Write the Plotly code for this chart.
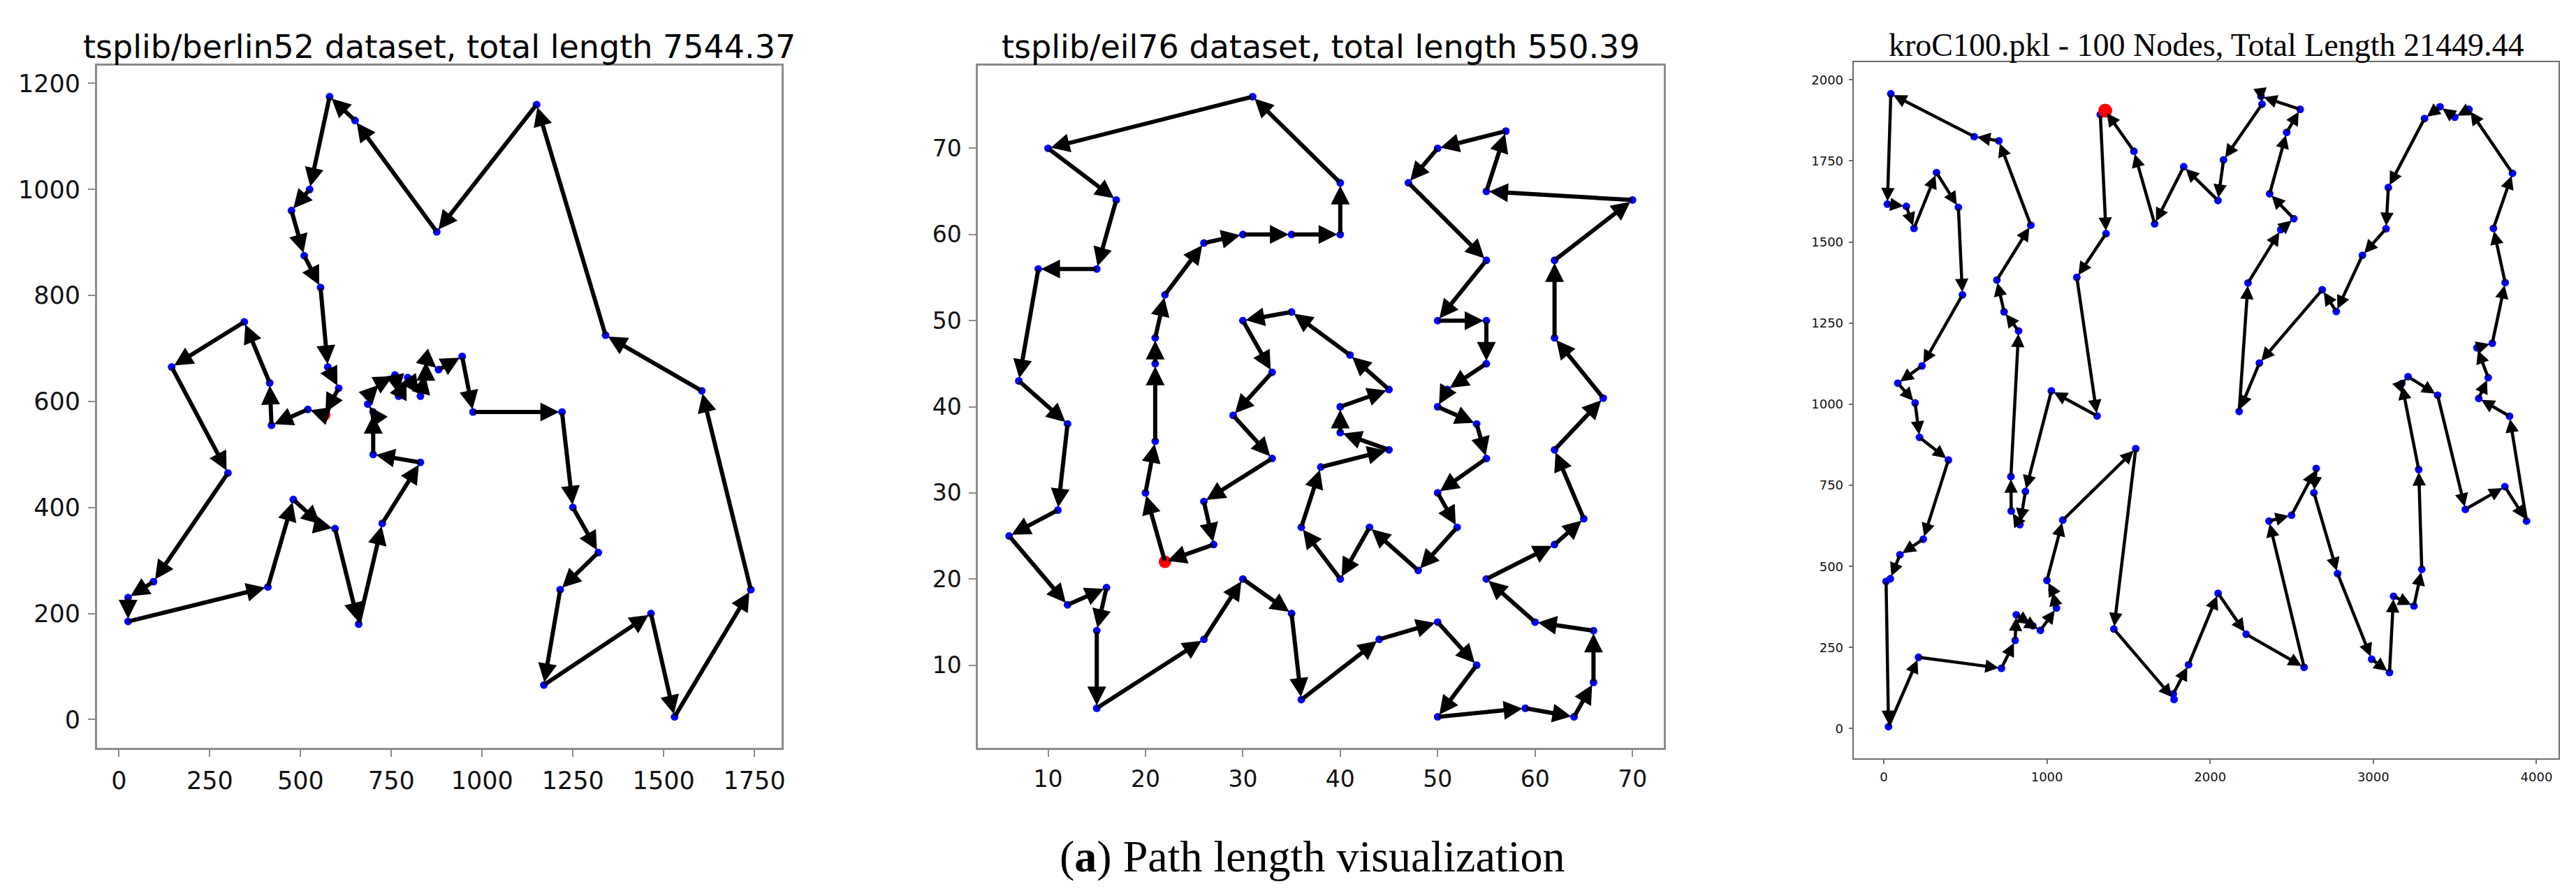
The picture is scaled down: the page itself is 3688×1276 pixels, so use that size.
import plotly.graph_objects as go

W, H = 3688, 1276

# ---------------- data (tour order, first point = start) ----------------
berlin_title = "tsplib/berlin52 dataset, total length 7544.37"
berlin_x = [565, 520, 420, 415, 345, 145, 300, 95, 25, 25, 410, 480, 560, 595, 660,
            725, 830, 700, 700, 685, 685, 720, 760, 770, 795, 830, 835, 845, 845, 880,
            945, 975, 1220, 1250, 1320, 1215, 1170, 1465, 1530, 1740, 1605, 1340, 1150,
            875, 650, 580, 525, 475, 510, 555, 575, 605]
berlin_y = [575, 585, 555, 635, 750, 665, 465, 260, 230, 185, 250, 415, 365, 360, 180,
            370, 485, 500, 580, 595, 610, 635, 650, 610, 645, 610, 625, 655, 680, 660,
            685, 580, 580, 400, 315, 245, 65, 200, 5, 245, 620, 725, 1160,
            920, 1130, 1175, 1000, 960, 875, 815, 665, 625]
berlin_xticks = [0, 250, 500, 750, 1000, 1250, 1500, 1750]
berlin_yticks = [0, 200, 400, 600, 800, 1000, 1200]

eil_title = "tsplib/eil76 dataset, total length 550.39"
eil_x = [22, 20, 21, 21, 21, 22, 26, 30, 35, 40, 40, 31, 10, 17, 15, 9, 7, 12, 11, 6,
         12, 16, 15, 15, 26, 30, 35, 36, 44, 50, 54, 50, 59, 64, 66, 66, 60, 55, 62, 65,
         62, 67, 62, 62, 70, 55, 57, 50, 47, 55, 50, 55, 55, 51, 50, 54, 55, 50, 52, 48,
         43, 40, 36, 38, 45, 40, 40, 45, 41, 35, 30, 33, 29, 33, 26, 27]
eil_y = [22, 30, 36, 45, 48, 53, 59, 60, 60, 60, 66, 76, 70, 64, 56, 56, 43, 38, 28, 25,
         17, 19, 14, 5, 13, 20, 16, 6, 13, 15, 10, 4, 5, 4, 8, 14, 15, 20, 24, 27,
         35, 41, 48, 57, 64, 65, 72, 70, 66, 57, 50, 50, 45, 42, 40, 38, 34, 30, 26, 21,
         26, 20, 26, 33, 35, 37, 40, 42, 46, 51, 50, 44, 39, 34, 29, 24]
eil_xticks = [10, 20, 30, 40, 50, 60, 70]
eil_yticks = [10, 20, 30, 40, 50, 60, 70]

kro_title = "kroC100.pkl - 100 Nodes, Total Length 21449.44"
kro_x = [1357, 1327, 1362, 1183, 1307, 1027, 868, 834, 781, 779,
         826, 737, 693, 901, 705, 554, 43, 22, 138, 185,
         323, 457, 482, 234, 86, 192, 219, 396, 242, 99,
         40, 14, 29, 213, 721, 805, 812, 913, 960, 1058,
         1031, 1000, 1097, 1544, 1410, 1779, 1774, 1868, 2049, 2221,
         2576, 2361, 2499, 2650, 2636, 2781, 2990, 3099, 3124, 3249,
         3297, 3278, 3174, 3213, 3394, 3564, 3806, 3939, 3835, 3646,
         3704, 3635, 3729, 3808, 3736, 3853, 3586, 3499, 3409, 3314,
         3092, 3078, 2933, 2773, 2687, 2302, 2178, 2232, 2433, 2513,
         2365, 2469, 2552, 2312, 2318, 2082, 2048, 1838, 1660, 1533]
kro_y = [1905, 1893, 1526, 1391, 964, 1041, 731, 629, 671, 777,
         1226, 1285, 1383, 1552, 1812, 1825, 1957, 1617, 1610, 1542,
         1714, 1607, 1337, 1118, 1065, 1004, 898, 828, 584, 536,
         462, 454, 6, 220, 186, 272, 351, 317, 303, 372,
         428, 457, 643, 863, 307, 90, 107, 197, 417, 291,
         189, 640, 658, 802, 727, 478, 214, 173, 408, 378,
         491, 799, 1064, 1085, 1028, 676, 746, 640, 963, 1018,
         1082, 1174, 1188, 1375, 1542, 1712, 1909, 1885, 1917, 1881,
         1668, 1541, 1459, 1286, 1353, 1127, 978, 1374, 1538, 1572,
         1649, 1838, 1909, 1949, 1925, 1753, 1628, 1732, 1556, 1780]
kro_xticks = [0, 1000, 2000, 3000, 4000]
kro_yticks = [0, 250, 500, 750, 1000, 1250, 1500, 1750, 2000]

caption = "(<b>a</b>) Path length visualization"

# ---------------- styles / layout ----------------
panels = [
    dict(xs=berlin_x, ys=berlin_y, title=berlin_title, xt=berlin_xticks, yt=berlin_yticks,
         box=(131, 86, 1113, 1063), tfont="DejaVu Sans", tsize=46, ty=59,
         tickfont=35, ticklen=10, spine=2.5, spinecol="#8c8c8c",
         aw=6, asz=0.9, ms=11, rs=18),
    dict(xs=eil_x, ys=eil_y, title=eil_title, xt=eil_xticks, yt=eil_yticks,
         box=(1394, 86, 2377, 1063), tfont="DejaVu Sans", tsize=46, ty=59,
         tickfont=33, ticklen=10, spine=2.5, spinecol="#8c8c8c",
         aw=6, asz=0.9, ms=11, rs=18),
    dict(xs=kro_x, ys=kro_y, title=kro_title, xt=kro_xticks, yt=kro_yticks,
         box=(2650, 81, 3660, 1078), tfont="Liberation Serif", tsize=46, ty=56,
         tickfont=18, ticklen=6, spine=1.5, spinecol="#6e6e6e",
         aw=4.5, asz=0.85, ms=11, rs=20),
]


def pad_range(v):
    lo, hi = min(v), max(v)
    m = 0.05 * (hi - lo)
    return [lo - m, hi + m]


fig = go.Figure()
annotations = []
layout = {}

for k, p in enumerate(panels, start=1):
    sfx = "" if k == 1 else str(k)
    xa, ya = "x" + sfx, "y" + sfx
    x0, y0, x1, y1 = p["box"]
    xs, ys = p["xs"], p["ys"]
    n = len(xs)

    # nodes
    fig.add_trace(go.Scatter(x=xs, y=ys, mode="markers", xaxis=xa, yaxis=ya,
                             marker=dict(color="#0000ff", size=p["ms"]),
                             hoverinfo="skip", showlegend=False))
    fig.add_trace(go.Scatter(x=[xs[0]], y=[ys[0]], mode="markers", xaxis=xa, yaxis=ya,
                             marker=dict(color="#ff0000", size=p["rs"]),
                             hoverinfo="skip", showlegend=False))

    # arrows along the tour
    for i in range(n):
        j = (i + 1) % n
        annotations.append(dict(
            x=xs[j], y=ys[j], ax=xs[i], ay=ys[i],
            xref=xa, yref=ya, axref=xa, ayref=ya,
            text="", showarrow=True, arrowhead=2, arrowsize=p["asz"],
            arrowwidth=p["aw"], arrowcolor="black", standoff=4,
        ))

    axcommon = dict(showgrid=False, zeroline=False, showline=True, mirror=True,
                    linecolor=p["spinecol"], linewidth=p["spine"],
                    ticks="outside", ticklen=p["ticklen"], tickwidth=max(1.5, p["spine"] * 0.8),
                    tickcolor=p["spinecol"], ticklabelstandoff=4,
                    tickfont=dict(family="DejaVu Sans", size=p["tickfont"], color="#111111"))
    layout["xaxis" + sfx] = dict(axcommon, domain=[x0 / W, x1 / W], range=pad_range(xs),
                                 tickvals=p["xt"], anchor=ya)
    layout["yaxis" + sfx] = dict(axcommon, domain=[1 - y1 / H, 1 - y0 / H], range=pad_range(ys),
                                 tickvals=p["yt"], anchor=xa)

    annotations.append(dict(
        text=p["title"], xref="paper", yref="paper",
        x=(x0 + x1) / 2 / W, y=1 - p["ty"] / H, xanchor="center", yanchor="middle",
        showarrow=False, font=dict(family=p["tfont"], size=p["tsize"], color="black"),
    ))

annotations.append(dict(
    text=caption, xref="paper", yref="paper", x=1873 / W, y=1 - 1218 / H,
    xanchor="center", yanchor="middle", showarrow=False,
    font=dict(family="Liberation Serif", size=64, color="black"),
))

fig.update_layout(width=W, height=H, margin=dict(l=0, r=0, t=0, b=0),
                  paper_bgcolor="white", plot_bgcolor="white", showlegend=False,
                  annotations=annotations, **layout)

fig.write_html("out.html")
